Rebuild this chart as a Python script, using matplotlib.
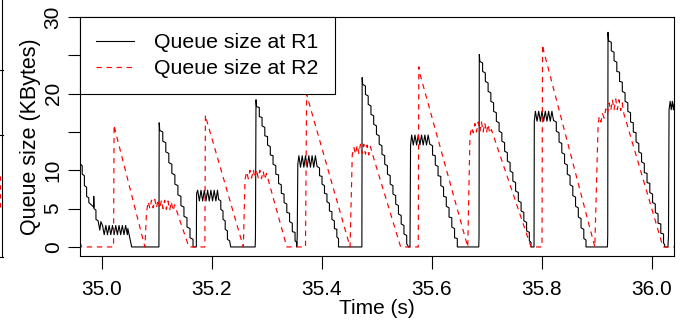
import numpy as np
import matplotlib
matplotlib.use('Agg')
import matplotlib.pyplot as plt
from matplotlib.lines import Line2D

plt.rcParams['font.family'] = ['Liberation Sans', 'DejaVu Sans']

# (time in s, queue in KBytes)
r1_trace = [
    (34.961, 10.8), (34.964, 10.6), (34.964, 9.5), (34.968, 9.3), (34.968, 8.0), (34.972, 7.8),
    (34.972, 6.6), (34.976, 6.4), (34.976, 5.8), (34.985, 5.2), (34.985, 6.6), (34.9855, 5.0),
    (34.989, 4.8), (34.989, 3.6), (34.993, 3.4), (34.996, 2.2), (34.998, 3.3),
    (35.001, 2.8), (35.004, 1.6), (35.007, 2.8), (35.010, 1.6), (35.013, 2.8), (35.016, 1.6),
    (35.019, 2.8), (35.022, 1.6), (35.025, 2.8), (35.028, 1.6), (35.031, 2.8), (35.034, 1.6),
    (35.037, 2.8), (35.040, 1.6), (35.043, 2.8), (35.046, 1.6), (35.047, 2.4), (35.054, 0.0),
    (35.1035, 0.0), (35.104, 16.2), (35.105, 15.2),
    (35.1105, 15.0), (35.1105, 13.8), (35.116, 13.6), (35.116, 12.4), (35.1215, 12.2), (35.1215, 11.0),
    (35.127, 10.8), (35.127, 9.6), (35.1325, 9.4), (35.1325, 8.2), (35.138, 8.0), (35.138, 6.8),
    (35.1435, 6.6), (35.1435, 5.4), (35.149, 5.2), (35.149, 4.0), (35.1545, 3.8), (35.1545, 2.6),
    (35.160, 2.4), (35.160, 1.2), (35.1655, 1.0), (35.1655, 0.0),
    (35.1715, 0.0), (35.172, 7.0), (35.174, 7.4), (35.177, 6.0), (35.180, 7.4), (35.183, 6.0),
    (35.186, 7.4), (35.189, 6.0), (35.192, 7.4), (35.195, 6.0), (35.198, 7.4), (35.201, 6.0),
    (35.204, 7.4), (35.207, 6.0), (35.210, 7.4), (35.212, 6.2),
    (35.216, 6.0), (35.216, 4.9), (35.220, 4.7), (35.220, 3.6), (35.224, 3.4), (35.224, 2.3),
    (35.228, 2.1), (35.228, 1.0), (35.232, 0.8), (35.234, 0.0),
    (35.2785, 0.0), (35.279, 1.4), (35.280, 19.2), (35.281, 18.3),
    (35.286, 18.2), (35.286, 17.0), (35.291, 16.9), (35.291, 15.8), (35.296, 15.6), (35.296, 14.5),
    (35.301, 14.4), (35.301, 13.3), (35.306, 13.1), (35.306, 12.0), (35.311, 11.9), (35.311, 10.8),
    (35.316, 10.6), (35.316, 9.5), (35.321, 9.4), (35.321, 8.3), (35.326, 8.1), (35.326, 7.0),
    (35.331, 6.9), (35.331, 5.8), (35.336, 5.6), (35.336, 4.5), (35.341, 4.4), (35.341, 3.3),
    (35.346, 3.1), (35.346, 2.0), (35.351, 1.9), (35.351, 0.8), (35.354, 0.6), (35.354, 0.0),
    (35.355, 1.4), (35.356, 10.8), (35.358, 11.9), (35.361, 10.4), (35.364, 11.9), (35.367, 10.4),
    (35.370, 11.9), (35.373, 10.4), (35.376, 11.9), (35.379, 10.4), (35.382, 11.9), (35.385, 10.4),
    (35.388, 11.9), (35.391, 10.5),
    (35.3955, 10.3), (35.3955, 9.3), (35.400, 9.2), (35.400, 8.2), (35.4045, 8.0), (35.4045, 7.0),
    (35.409, 6.9), (35.409, 5.9), (35.4135, 5.7), (35.4135, 4.7), (35.418, 4.6), (35.418, 3.6),
    (35.4225, 3.4), (35.4225, 2.4), (35.427, 2.3), (35.427, 1.3), (35.430, 1.1), (35.430, 0.0),
    (35.4725, 0.0), (35.473, 22.1), (35.474, 21.2),
    (35.479, 21.0), (35.479, 19.9), (35.484, 19.7), (35.484, 18.6), (35.489, 18.4), (35.489, 17.3),
    (35.494, 17.1), (35.494, 16.0), (35.499, 15.8), (35.499, 14.7), (35.504, 14.5), (35.504, 13.4),
    (35.509, 13.2), (35.509, 12.1), (35.514, 11.9), (35.514, 10.8), (35.519, 10.6), (35.519, 9.5),
    (35.524, 9.3), (35.524, 8.2), (35.529, 8.0), (35.529, 6.9), (35.534, 6.7), (35.534, 5.6),
    (35.539, 5.4), (35.539, 4.3), (35.544, 4.1), (35.544, 3.0), (35.549, 2.8), (35.549, 1.7),
    (35.554, 1.5), (35.554, 0.4), (35.556, 0.2), (35.557, 0.0),
    (35.560, 0.0), (35.561, 13.3), (35.563, 14.6), (35.566, 13.3), (35.569, 14.6), (35.572, 13.3),
    (35.575, 14.6), (35.578, 13.3), (35.581, 14.6), (35.584, 13.3), (35.587, 14.6), (35.590, 13.3),
    (35.593, 14.6), (35.596, 13.4),
    (35.601, 13.2), (35.601, 12.0), (35.606, 11.9), (35.606, 10.7), (35.611, 10.5), (35.611, 9.3),
    (35.616, 9.2), (35.616, 8.0), (35.621, 7.8), (35.621, 6.6), (35.626, 6.5), (35.626, 5.3),
    (35.631, 5.1), (35.631, 3.9), (35.636, 3.8), (35.636, 2.6), (35.641, 2.4), (35.641, 1.2),
    (35.646, 1.1), (35.646, 0.0),
    (35.685, 0.0), (35.6855, 1.3), (35.686, 25.1), (35.687, 24.2),
    (35.692, 24.0), (35.692, 22.9), (35.697, 22.7), (35.697, 21.6), (35.702, 21.4), (35.702, 20.3),
    (35.707, 20.1), (35.707, 19.0), (35.712, 18.8), (35.712, 17.7), (35.717, 17.5), (35.717, 16.4),
    (35.722, 16.2), (35.722, 15.1), (35.727, 14.9), (35.727, 13.8), (35.732, 13.6), (35.732, 12.5),
    (35.737, 12.3), (35.737, 11.2), (35.742, 11.0), (35.742, 9.9), (35.747, 9.7), (35.747, 8.6),
    (35.752, 8.4), (35.752, 7.3), (35.757, 7.1), (35.757, 6.0), (35.762, 5.8), (35.762, 4.7),
    (35.767, 4.5), (35.767, 3.4), (35.772, 3.2), (35.772, 2.1), (35.777, 1.9), (35.777, 0.8),
    (35.780, 0.6), (35.780, 0.0),
    (35.7855, 0.0), (35.786, 16.4), (35.788, 17.7), (35.791, 16.4), (35.794, 17.7), (35.797, 16.4),
    (35.800, 17.7), (35.803, 16.4), (35.806, 17.7), (35.809, 16.4), (35.812, 17.7), (35.815, 16.4),
    (35.818, 17.7), (35.821, 16.5),
    (35.826, 16.3), (35.826, 15.1), (35.831, 14.9), (35.831, 13.7), (35.836, 13.5), (35.836, 12.3),
    (35.841, 12.1), (35.841, 10.9), (35.846, 10.7), (35.846, 9.5), (35.851, 9.3), (35.851, 8.1),
    (35.856, 7.9), (35.856, 6.7), (35.861, 6.5), (35.861, 5.3), (35.866, 5.1), (35.866, 3.9),
    (35.871, 3.7), (35.871, 2.5), (35.876, 2.3), (35.876, 1.1), (35.880, 0.9), (35.880, 0.0),
    (35.919, 0.0), (35.9195, 1.5), (35.920, 28.0), (35.921, 26.9),
    (35.926, 26.7), (35.926, 25.6), (35.931, 25.4), (35.931, 24.3), (35.936, 24.1), (35.936, 22.9),
    (35.941, 22.8), (35.941, 21.6), (35.946, 21.5), (35.946, 20.3), (35.951, 20.1), (35.951, 19.0),
    (35.956, 18.8), (35.956, 17.7), (35.961, 17.5), (35.961, 16.3), (35.966, 16.2), (35.966, 15.0),
    (35.971, 14.9), (35.971, 13.7), (35.976, 13.5), (35.976, 12.4), (35.981, 12.2), (35.981, 11.1),
    (35.986, 10.9), (35.986, 9.7), (35.991, 9.6), (35.991, 8.4), (35.996, 8.3), (35.996, 7.1),
    (36.001, 6.9), (36.001, 5.8), (36.006, 5.6), (36.006, 4.5), (36.011, 4.3), (36.011, 3.1),
    (36.016, 3.0), (36.016, 1.8), (36.021, 1.7), (36.021, 0.5), (36.023, 0.3), (36.023, 0.0),
    (36.029, 0.0), (36.030, 1.5), (36.031, 17.9), (36.033, 19.0), (36.035, 17.9), (36.037, 19.0),
    (36.039, 17.9), (36.041, 19.0),
]

r2_trace = [
    (34.960, 0.6), (34.963, 0.0), (35.021, 0.0), (35.022, 15.9), (35.024, 15.2), (35.078, 0.0),
    (35.081, 4.6), (35.084, 5.9), (35.087, 5.0), (35.090, 6.1), (35.093, 5.1), (35.096, 6.2),
    (35.099, 5.1), (35.102, 6.2), (35.105, 5.0), (35.108, 6.1), (35.111, 5.0), (35.114, 6.1),
    (35.117, 4.9), (35.120, 6.0), (35.123, 4.8), (35.126, 5.9), (35.129, 4.7), (35.132, 5.5),
    (35.158, 0.0), (35.187, 0.0), (35.188, 17.2), (35.190, 16.6), (35.257, 0.0),
    (35.260, 8.8), (35.263, 9.8), (35.266, 8.9), (35.269, 10.0), (35.272, 9.0), (35.275, 10.1),
    (35.278, 9.0), (35.281, 10.1), (35.284, 9.0), (35.287, 10.0), (35.290, 8.9), (35.293, 9.9),
    (35.296, 8.8), (35.299, 9.6), (35.336, 0.0), (35.370, 0.0), (35.372, 20.0), (35.374, 19.4),
    (35.451, 0.0), (35.455, 12.0), (35.458, 13.0), (35.461, 12.1), (35.464, 13.3), (35.467, 12.2),
    (35.470, 13.4), (35.473, 12.2), (35.476, 13.4), (35.479, 12.1), (35.482, 13.3), (35.485, 12.0),
    (35.488, 13.1), (35.491, 12.3), (35.543, 0.0), (35.575, 0.0), (35.576, 23.5), (35.578, 22.6),
    (35.665, 0.0), (35.669, 14.4), (35.672, 15.6), (35.675, 14.9), (35.678, 16.1), (35.681, 15.0),
    (35.684, 16.3), (35.687, 15.1), (35.690, 16.3), (35.693, 15.0), (35.696, 16.2), (35.699, 14.9),
    (35.702, 16.0), (35.705, 14.8), (35.708, 15.3), (35.780, 0.0), (35.800, 0.0), (35.801, 26.4),
    (35.803, 25.6), (35.896, 0.0), (35.902, 15.9), (35.904, 17.0), (35.907, 16.3), (35.910, 17.4),
    (35.913, 16.8), (35.916, 18.0), (35.919, 17.3), (35.922, 18.8), (35.925, 17.8), (35.928, 19.2),
    (35.931, 17.9), (35.934, 19.3), (35.937, 17.9), (35.940, 19.2), (35.943, 17.8), (35.946, 18.8),
    (35.948, 17.6), (36.020, 0.0), (36.040, 0.0),
]

x_ticks = [35.0, 35.2, 35.4, 35.6, 35.8, 36.0]
y_ticks = [0, 5, 10, 15, 20, 25, 30]
y_tick_labels = ['0', '5', '10', '', '20', '', '30']

r1_t, r1_q = np.array(r1_trace).T
r2_t, r2_q = np.array(r2_trace).T

fig = plt.figure(figsize=(6.84, 3.24), dpi=100)
ax = fig.add_axes([80 / 684, 68 / 324, 594 / 684, 239 / 324])

ax.plot(r1_t, r1_q, color='black', lw=0.8, label='Queue size at R1')
ax.plot(r2_t, r2_q, color='red', lw=0.85, ls=(0, (4.5, 4)), label='Queue size at R2')

ax.set_xlim(34.96, 36.04)
ax.set_ylim(-1.18, 30.0)
ax.set_xticks(x_ticks)
ax.set_xticklabels(['%.1f' % t for t in x_ticks])
ax.set_yticks(y_ticks)
ax.set_yticklabels(y_tick_labels)
for lbl in ax.get_yticklabels():
    lbl.set_rotation(90)
    lbl.set_va('center')

ax.tick_params(direction='out', length=9, width=0.8, labelsize=15, color='black')
ax.tick_params(axis='x', pad=8.5)
ax.tick_params(axis='y', pad=3.5)
for sp in ax.spines.values():
    sp.set_linewidth(0.8)
    sp.set_color('black')

ax.set_xlabel('Time (s)', fontsize=15, labelpad=0)
ax.set_ylabel('Queue size (KBytes)', fontsize=15.5, labelpad=2)

leg = ax.legend(loc='upper left', bbox_to_anchor=(0, 1), borderaxespad=0, fontsize=15.3,
                frameon=True, fancybox=False, framealpha=1, edgecolor='black',
                handlelength=1.8, handletextpad=0.95, borderpad=0.75, labelspacing=0.35)
leg.get_frame().set_linewidth(0.8)

# edge of the neighbouring panel left in the crop
edge_x = 1.5 / 684
fig.add_artist(Line2D([edge_x, edge_x], [1 - 257 / 324, 1], color='black', lw=0.8))
for py in (70, 135, 257):
    fig.add_artist(Line2D([0, edge_x + 1.5 / 684], [1 - py / 324, 1 - py / 324], color='black', lw=0.8))
fig.add_artist(Line2D([0.4 / 684, 0.4 / 684], [1 - 207 / 324, 1 - 173 / 324], color='red',
                      lw=0.8, ls=(0, (4, 4))))

fig.savefig('out.png', dpi=100)
